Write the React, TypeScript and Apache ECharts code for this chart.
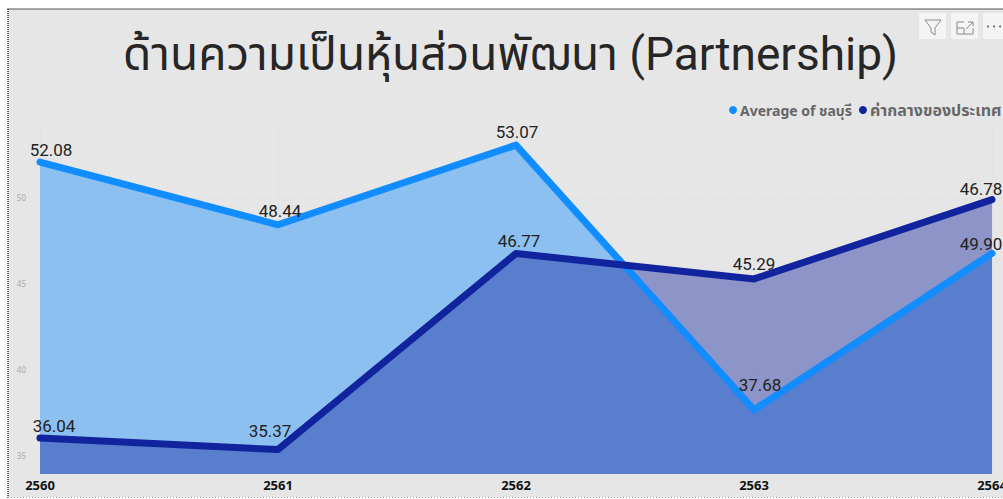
import React, { useEffect, useRef } from "react";
import * as echarts from "echarts";

const title = "ด้านความเป็นหุ้นส่วนพัฒนา (Partnership)";
const categories = ["2560", "2561", "2562", "2563", "2564"];
const seriesNames = ["Average of ชลบุรี", "ค่ากลางของประเทศ"];
const chonburi = [52.08, 48.44, 53.07, 37.68, 46.78];
const national = [36.04, 35.37, 46.77, 45.29, 49.9];
// The reference prints the last pair of labels swapped, so labels are listed on their own.
const chonburiLabels = ["52.08", "48.44", "53.07", "37.68", "49.90"];
const nationalLabels = ["36.04", "35.37", "46.77", "45.29", "46.78"];
const yTicks = [35, 40, 45, 50];

const FONT = "'Noto Sans', 'Noto Sans Thai', 'DejaVu Sans', sans-serif";
const chonburiShift: [number, number][] = [[11, 3], [2, 1], [1, 2], [6, -10], [-11, 6]];
const nationalShift: [number, number][] = [[14, 3], [-8, -4], [3, 3], [0, 0], [-11, 4]];

function makeSeries(name: string, values: number[], labels: string[], color: string, shifts: [number, number][]) {
  return {
    name,
    type: "line",
    symbol: "none",
    z: 2,
    clip: false,
    lineStyle: { width: 7, color, cap: "round", join: "round" },
    itemStyle: { color },
    areaStyle: { color, opacity: 0.42, origin: "start" },
    data: values.map((value, i) => ({
      value,
      symbol: "circle",
      symbolSize: 1,
      label: {
        show: true,
        position: "top",
        distance: 6,
        offset: shifts[i],
        formatter: labels[i],
        fontSize: 17,
        color: "#222",
        fontFamily: "Roboto, " + FONT,
      },
    })),
  };
}

export default function App() {
  const ref = useRef<HTMLDivElement>(null);
  useEffect(() => {
    document.body.style.margin = "0";
    document.body.style.background = "#fff";
    const chart = echarts.init(ref.current!, undefined, { renderer: "svg" });
    const iconBox = (x: number, w: number) => ({
      type: "rect", z: -5, shape: { x, y: 13, width: w, height: 26 }, style: { fill: "#f4f4f4" },
    });
    chart.setOption({
      animation: false,
      backgroundColor: "#fff",
      title: {
        text: title,
        left: 505.5,
        top: 26,
        textAlign: "center",
        textStyle: { fontSize: 46, fontWeight: 400, color: "#262626", fontFamily: "Roboto, " + FONT },
      },
      legend: {
        left: 729,
        top: 102,
        width: 500,
        itemWidth: 8,
        itemHeight: 8,
        itemGap: 7,
        padding: 0,
        icon: "circle",
        textStyle: { fontSize: 14, fontWeight: 700, color: "#666", padding: [0, 0, 0, -2], fontFamily: FONT },
        data: [
          { name: seriesNames[0] },
          { name: seriesNames[1], textStyle: { fontSize: 16 } },
        ],
      },
      grid: { left: 40, right: 11, top: 125, bottom: 25, containLabel: false, outerBoundsMode: "none" },
      xAxis: {
        type: "category",
        boundaryGap: false,
        data: categories,
        axisLine: { show: false },
        axisTick: { show: false },
        axisLabel: { color: "#111", fontSize: 13, fontWeight: 700, margin: 4, fontFamily: FONT, showMaxLabel: true, hideOverlap: false },
        splitLine: { show: true, lineStyle: { color: "#dedede", type: "dotted", width: 1 } },
      },
      yAxis: {
        type: "value",
        min: 33.95,
        max: 54.24,
        axisLine: { show: false },
        axisTick: { show: false, customValues: yTicks },
        axisLabel: { color: "#a8a8a8", fontSize: 8, margin: 14, customValues: yTicks, fontFamily: FONT },
        splitLine: { show: true, lineStyle: { color: "#d8d8d8", type: [1, 2], width: 1 } },
      },
      series: [
        makeSeries(seriesNames[0], chonburi, chonburiLabels, "#118DFF", chonburiShift),
        makeSeries(seriesNames[1], national, nationalLabels, "#12239E", nationalShift),
      ],
      graphic: {
        elements: [
          { type: "rect", z: -10, shape: { x: 8, y: 9, width: 995, height: 488 }, style: { fill: "#e6e6e6" } },
          { type: "line", z: -4, shape: { x1: 7, y1: 9, x2: 1003, y2: 9 }, style: { stroke: "#555", lineWidth: 1.2 } },
          { type: "line", z: -4, shape: { x1: 8, y1: 9, x2: 8, y2: 499 }, style: { stroke: "#333", lineWidth: 1.5, lineDash: [1, 1] } },
          { type: "line", z: -4, shape: { x1: 8, y1: 497.5, x2: 1003, y2: 497.5 }, style: { stroke: "#999", lineWidth: 1, lineDash: [1, 2] } },
          iconBox(919, 27),
          iconBox(951, 27),
          iconBox(983, 20),
          { type: "polygon", z: -3, shape: { points: [[925, 20], [941, 20], [935, 28], [935, 35], [931, 32], [931, 28]] }, style: { fill: "none", stroke: "#8a8a8a", lineWidth: 1 } },
          { type: "polyline", z: -3, shape: { points: [[964, 22], [957, 22], [957, 34], [973, 34], [973, 28]] }, style: { fill: "none", stroke: "#8a8a8a", lineWidth: 1 } },
          { type: "polyline", z: -3, shape: { points: [[957, 28], [964, 28], [964, 34]] }, style: { fill: "none", stroke: "#8a8a8a", lineWidth: 1 } },
          { type: "polyline", z: -3, shape: { points: [[968, 22], [973, 22], [973, 26]] }, style: { fill: "none", stroke: "#8a8a8a", lineWidth: 1 } },
          { type: "line", z: -3, shape: { x1: 973, y1: 22, x2: 966, y2: 29 }, style: { stroke: "#8a8a8a", lineWidth: 1 } },
          { type: "circle", z: -3, shape: { cx: 988, cy: 26.5, r: 1 }, style: { fill: "#666" } },
          { type: "circle", z: -3, shape: { cx: 994, cy: 26.5, r: 1 }, style: { fill: "#666" } },
          { type: "circle", z: -3, shape: { cx: 1000, cy: 26.5, r: 1 }, style: { fill: "#666" } },
        ],
      },
    });
    return () => chart.dispose();
  }, []);
  return <div ref={ref} style={{ position: "fixed", left: 0, top: 0, width: 1003, height: 499 }} />;
}
